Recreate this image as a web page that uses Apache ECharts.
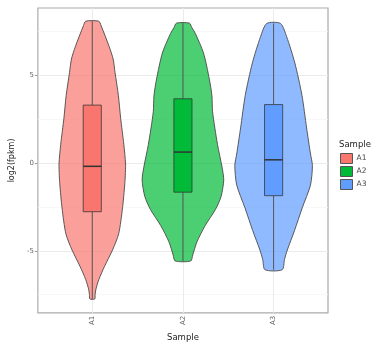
<!DOCTYPE html>
<html>
<head>
<meta charset="utf-8">
<script src="https://cdn.jsdelivr.net/npm/echarts@6/dist/echarts.min.js"></script>
<style>html,body{margin:0;padding:0;background:#fff}#c{width:382px;height:347px}</style>
</head>
<body>
<div id="c"></div>
<script>
// ---- data ----
const categories = ['A1', 'A2', 'A3'];
const yTicks = [-5, 0, 5];
const yMinorTicks = [-7.5, -2.5, 2.5, 7.5];
// violin profiles: y levels (log2 fpkm) and half widths (category units)
const a1Levels = [8.05, 7.8, 6.6, 5.9, 5.13, 3.83, 2.53, 1.05, -0.06, -0.7, -1.17, -2.56, -4.04, -4.96, -5.89, -6.63, -7.19, -7.5, -7.74];
const a1Width  = [0.072, 0.097, 0.187, 0.23, 0.251, 0.288, 0.313, 0.348, 0.367, 0.364, 0.359, 0.334, 0.291, 0.223, 0.135, 0.073, 0.040, 0.031, 0.027];
const a2Levels = [7.94, 7.7, 7.35, 6.24, 4.76, 3.8, 2.9, 1.05, -0.24, -0.98, -1.91, -2.65, -3.57, -4.5, -5.24, -5.58];
const a2Width  = [0.072, 0.097, 0.137, 0.227, 0.291, 0.32, 0.327, 0.381, 0.431, 0.450, 0.421, 0.359, 0.245, 0.154, 0.108, 0.086];
const a3Levels = [7.92, 7.17, 5.68, 3.83, 1.98, 0.5, -0.15, -1.26, -2.56, -3.86, -4.96, -5.5, -6.08];
const a3Width  = [0.076, 0.144, 0.234, 0.313, 0.364, 0.407, 0.428, 0.407, 0.316, 0.230, 0.151, 0.120, 0.095];
// box stats: [min, q1, median, q3, max]
const a1Box = [-7.74, -2.78, -0.2, 3.28, 8.05];
const a2Box = [-5.58, -1.67, 0.61, 3.64, 7.94];
const a3Box = [-6.08, -1.87, 0.17, 3.31, 7.92];

const boxColors = ['#F8766D', '#00BA38', '#619CFF'];
const violinColors = ['rgba(248,118,109,0.7)', 'rgba(0,186,56,0.7)', 'rgba(97,156,255,0.7)'];

const levels = [a1Levels, a2Levels, a3Levels];
const widths = [a1Width, a2Width, a3Width];
const boxes = [a1Box, a2Box, a3Box];

const chart = echarts.init(document.getElementById('c'));

function makeSeries(i) {
  return {
    name: categories[i],
    type: 'custom',
    z: 3,
    itemStyle: { color: boxColors[i] },
    data: [[i + 1]],
    renderItem: function (params, api) {
      const x = api.value(0);
      const lv = levels[i], wd = widths[i], bx = boxes[i];
      const right = lv.map((y, k) => api.coord([x + wd[k], y]));
      const left = lv.map((y, k) => api.coord([x - wd[k], y])).reverse();
      const pts = right.concat(left);
      const bw = 0.1;
      const p1 = api.coord([x - bw, bx[3]]);
      const p2 = api.coord([x + bw, bx[1]]);
      const cTop = api.coord([x, bx[4]]);
      const cBot = api.coord([x, bx[0]]);
      const q3c = api.coord([x, bx[3]]);
      const q1c = api.coord([x, bx[1]]);
      const mL = api.coord([x - bw, bx[2]]);
      const mR = api.coord([x + bw, bx[2]]);
      return {
        type: 'group',
        children: [
          { type: 'polygon', shape: { points: pts, smooth: 0.25 },
            style: { fill: violinColors[i], stroke: '#4a4a4a', lineWidth: 0.9 } },
          { type: 'line', shape: { x1: cTop[0], y1: cTop[1], x2: q3c[0], y2: q3c[1] },
            style: { stroke: '#555', lineWidth: 1 } },
          { type: 'line', shape: { x1: q1c[0], y1: q1c[1], x2: cBot[0], y2: cBot[1] },
            style: { stroke: '#555', lineWidth: 1 } },
          { type: 'rect', shape: { x: p1[0], y: p1[1], width: p2[0] - p1[0], height: p2[1] - p1[1] },
            style: { fill: boxColors[i], stroke: 'rgba(50,50,50,0.75)', lineWidth: 1 } },
          { type: 'line', shape: { x1: mL[0], y1: mL[1], x2: mR[0], y2: mR[1] },
            style: { stroke: '#333', lineWidth: 1.5 } }
        ]
      };
    }
  };
}

const gridLines = {
  type: 'line',
  z: 1,
  data: [],
  silent: true,
  markLine: {
    z: 1,
    silent: true,
    symbol: 'none',
    label: { show: false },
    animation: false,
    data: []
      .concat(yMinorTicks.map(v => ({ yAxis: v, lineStyle: { color: '#F5F5F5', width: 0.8, type: 'solid' } })))
      .concat(yTicks.map(v => ({ yAxis: v, lineStyle: { color: '#EBEBEB', width: 1, type: 'solid' } })))
      .concat(categories.map((c, k) => ({ xAxis: k + 1, lineStyle: { color: '#EBEBEB', width: 1, type: 'solid' } })))
  }
};

chart.setOption({
  animation: false,
  backgroundColor: '#fff',
  textStyle: { fontFamily: 'DejaVu Sans' },
  grid: { left: 33, right: 54, top: 8, bottom: 28, show: true, borderColor: '#ABABAB', borderWidth: 1.2, backgroundColor: 'transparent' },
  xAxis: {
    type: 'value', min: 0.4, max: 3.6,
    name: 'Sample', nameLocation: 'middle', nameGap: 18,
    nameTextStyle: { fontSize: 8.5, color: '#222' },
    axisLine: { show: false },
    splitLine: { show: false },
    axisTick: { show: true, customValues: [1, 2, 3], length: 3, lineStyle: { color: '#999' } },
    axisLabel: { customValues: [1, 2, 3], rotate: 90, fontSize: 7, color: '#666', margin: 3,
      formatter: v => categories[Math.round(v) - 1] }
  },
  yAxis: {
    type: 'value', min: -8.53, max: 8.8,
    name: 'log2(fpkm)', nameLocation: 'middle', nameGap: 18,
    nameTextStyle: { fontSize: 8, color: '#222' },
    axisLine: { show: false },
    splitLine: { show: false },
    axisTick: { show: true, customValues: yTicks, length: 3, lineStyle: { color: '#999' } },
    axisLabel: { customValues: yTicks, fontSize: 7, color: '#666', margin: 4 }
  },
  title: { text: 'Sample', left: 339, top: 140, padding: 0,
    textStyle: { fontSize: 8.5, fontWeight: 'normal', color: '#222' } },
  legend: {
    orient: 'vertical', left: 340, top: 153, padding: 0,
    itemWidth: 12, itemHeight: 10, itemGap: 2, icon: 'rect',
    textStyle: { fontSize: 7.5, color: '#444', padding: [0, 0, 0, -1] },
    data: categories.map((c, k) => ({ name: c, itemStyle: { color: boxColors[k], borderColor: '#555', borderWidth: 1 } }))
  },
  series: [gridLines, makeSeries(0), makeSeries(1), makeSeries(2)]
});
</script>
</body>
</html>
